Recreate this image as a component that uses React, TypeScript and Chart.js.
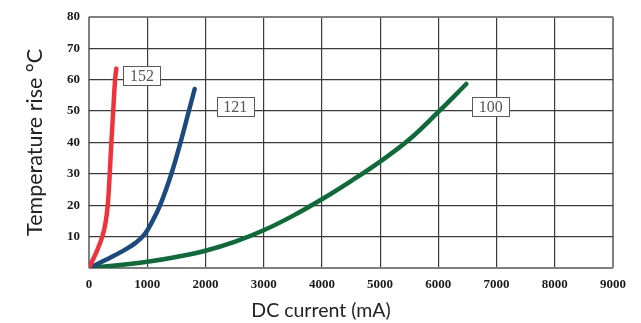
import React, { useEffect, useRef } from 'react';
import { Chart, registerables } from 'chart.js';

Chart.register(...registerables);

// ---- data ----
const xTickValues = [0, 1000, 2000, 3000, 4000, 5000, 6000, 7000, 8000, 9000];
const yTickValues = [0, 10, 20, 30, 40, 50, 60, 70, 80];

const seriesNames = ['152', '121', '100'];

const red152X = [0, 125, 220, 280, 322, 356, 384, 416, 448, 470];
const red152Y = [0, 5, 9.5, 14, 20, 30, 40, 50, 60, 63.5];

const blue121X = [0, 300, 600, 800, 950, 1080, 1222, 1415, 1572, 1715, 1815];
const blue121Y = [0, 2.7, 5.6, 8.0, 10.6, 14.6, 20, 30, 40, 50, 57];

const green100X = [0, 500, 1000, 1500, 2000, 2500, 3000, 3500, 4000, 4500, 5000, 5500, 6000, 6480];
const green100Y = [0, 0.9, 2.0, 3.5, 5.5, 8.3, 12.0, 16.6, 21.9, 27.7, 33.9, 40.9, 49.7, 58.6];

// label anchors (data units)
const labelX = [910, 2510, 6900];
const labelY = [61.3, 51.4, 51.3];

const xTitle = 'DC current (mA)';
const yTitle = 'Temperature rise °C';

const toPoints = (xs: number[], ys: number[]) => xs.map((x, i) => ({ x, y: ys[i] }));

export default function App() {
  const ref = useRef<HTMLCanvasElement | null>(null);

  useEffect(() => {
    if (!ref.current) return;

    const labelPlugin = {
      id: 'seriesLabels',
      afterDatasetsDraw(chart: any) {
        const { ctx, scales } = chart;
        const xs = scales.x;
        const ys = scales.y;
        ctx.save();
        seriesNames.forEach((name, i) => {
          const cx = xs.getPixelForValue(labelX[i]);
          const cy = ys.getPixelForValue(labelY[i]);
          const w = 37;
          const h = 19;
          const lx = Math.round(cx - w / 2) + 0.5;
          const ly = Math.round(cy - h / 2) + 0.5;
          ctx.fillStyle = '#ffffff';
          ctx.fillRect(lx, ly, w, h);
          ctx.strokeStyle = '#5a5a5a';
          ctx.lineWidth = 1;
          ctx.strokeRect(lx, ly, w, h);
          ctx.font = '16px "Liberation Serif", serif';
          ctx.fillStyle = '#555555';
          ctx.textAlign = 'center';
          ctx.textBaseline = 'middle';
          ctx.fillText(name, cx, cy + 1);
        });
        // x axis title
        const area = chart.chartArea;
        ctx.font = '19.5px Lato, "DejaVu Sans", sans-serif';
        ctx.fillStyle = '#222222';
        ctx.textAlign = 'center';
        ctx.textBaseline = 'middle';
        ctx.fillText(xTitle, area.left + 232, 311);
        ctx.restore();
      },
    };

    const edgeColor = '#808080';
    const innerColor = '#3a3a3a';
    const tickFont = { family: '"Liberation Serif", serif', size: 13, weight: 'bold' };

    const chart = new Chart(ref.current, {
      type: 'line',
      data: {
        datasets: [
          {
            label: seriesNames[0],
            data: toPoints(red152X, red152Y),
            borderColor: '#ee333d',
          },
          {
            label: seriesNames[1],
            data: toPoints(blue121X, blue121Y),
            borderColor: '#1b4a7f',
          },
          {
            label: seriesNames[2],
            data: toPoints(green100X, green100Y),
            borderColor: '#0d6b39',
          },
        ].map((d) => ({
          ...d,
          borderWidth: 4.5,
          pointRadius: 0,
          fill: false,
          tension: 0.4,
          cubicInterpolationMode: 'default' as const,
          borderCapStyle: 'round' as const,
          borderJoinStyle: 'round' as const,
        })),
      },
      plugins: [labelPlugin],
      options: {
        animation: false,
        responsive: false,
        layout: { padding: { left: 0, right: 28, top: 10, bottom: 0 } },
        plugins: {
          legend: { display: false },
          tooltip: { enabled: false },
        },
        scales: {
          x: {
            type: 'linear',
            min: xTickValues[0],
            max: xTickValues[xTickValues.length - 1],
            afterBuildTicks: (scale: any) => {
              scale.ticks = xTickValues.map((v) => ({ value: v }));
            },
            afterFit: (scale: any) => {
              scale.height = 55;
            },
            ticks: {
              padding: 9,
              color: '#1a1a1a',
              font: tickFont,
              maxRotation: 0,
              autoSkip: false,
              callback: (v: any) => String(v),
            },
            grid: {
              drawTicks: false,
              color: (c: any) =>
                c.index === 0 || c.index === xTickValues.length - 1 ? edgeColor : innerColor,
              lineWidth: (c: any) =>
                c.index === 0 || c.index === xTickValues.length - 1 ? 2 : 1.2,
            },
            border: { display: false },
          },
          y: {
            type: 'linear',
            min: yTickValues[0],
            max: yTickValues[yTickValues.length - 1],
            afterBuildTicks: (scale: any) => {
              scale.ticks = yTickValues.map((v) => ({ value: v }));
            },
            afterFit: (scale: any) => {
              scale.width = 89;
            },
            ticks: {
              padding: 9,
              color: '#1a1a1a',
              font: tickFont,
              callback: (v: any) => (v === 0 ? '' : String(v)),
              autoSkip: false,
            },
            grid: {
              drawTicks: false,
              color: (c: any) =>
                c.index === 0 || c.index === yTickValues.length - 1 ? edgeColor : innerColor,
              lineWidth: (c: any) =>
                c.index === 0 || c.index === yTickValues.length - 1 ? 2 : 1.2,
            },
            border: { display: false },
            title: {
              display: true,
              text: yTitle,
              color: '#222222',
              font: { family: 'Lato, "DejaVu Sans", sans-serif', size: 21.5 },
              padding: { top: 22, bottom: 0 },
            },
          },
        },
      },
    } as any);

    return () => chart.destroy();
  }, []);

  return (
    <div style={{ position: 'absolute', left: 0, top: 0, width: 641, height: 323, background: '#fff' }}>
      <canvas ref={ref} width={641} height={323} />
    </div>
  );
}
